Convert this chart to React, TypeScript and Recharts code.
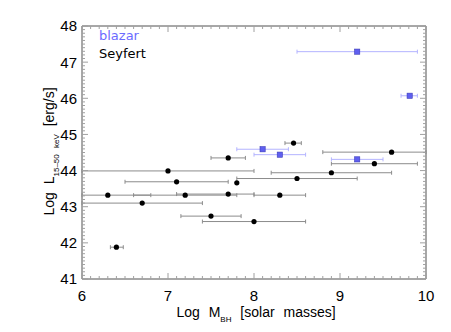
import { ErrorBar, Legend, ReferenceArea, Scatter, ScatterChart, XAxis, YAxis } from "recharts";

// blazars (blue squares)
const blazarMass = [9.2, 9.81, 8.1, 8.3, 9.2];
const blazarLum = [47.29, 46.07, 44.59, 44.44, 44.31];
const blazarMassLo = [8.5, 9.71, 7.8, 8.0, 8.9];
const blazarMassHi = [9.9, 9.9, 8.4, 8.6, 9.5];

// Seyferts (black dots)
const seyfertMass = [8.46, 7.7, 9.6, 9.4, 7.0, 7.1, 7.8, 8.5, 8.9, 6.3, 7.2, 7.7, 8.3, 6.7, 7.5, 8.0, 6.4];
const seyfertLum = [44.76, 44.35, 44.51, 44.19, 43.99, 43.69, 43.66, 43.78, 43.94, 43.32, 43.32, 43.35, 43.32, 43.1, 42.74, 42.59, 41.88];
const seyfertMassLo = [8.36, 7.5, 8.8, 8.9, 6.0, 6.5, 7.8, 7.8, 8.2, 6.0, 6.6, 7.1, 8.0, 6.0, 7.15, 7.4, 6.33];
const seyfertMassHi = [8.55, 7.9, 10.0, 9.9, 8.0, 7.7, 7.8, 9.2, 9.6, 6.8, 7.8, 8.0, 8.6, 7.4, 7.85, 8.6, 6.48];

const minorX = Array.from({ length: 41 }, (_, i) => 6 + i / 10);
const minorY = Array.from({ length: 71 }, (_, i) => 41 + i / 10);

const font = "'Liberation Sans', Arial, sans-serif";
const axisColor = "#8a8a8a";
const tickColor = "#a0a0a0";

const blazarData = blazarMass.map((m, i) => ({
  mass: m,
  lum: blazarLum[i],
  err: [m - blazarMassLo[i], blazarMassHi[i] - m],
}));
const seyfertData = seyfertMass.map((m, i) => ({
  mass: m,
  lum: seyfertLum[i],
  err: [m - seyfertMassLo[i], seyfertMassHi[i] - m],
}));

const isMajor = (v: number) => Math.abs(v - Math.round(v)) < 1e-6;

// inward tick marks (long on integers), plus the number on the labelled sides
const makeTick = (side: "bottom" | "top" | "left" | "right") => (p: any) => {
  const v = p.payload.value;
  const major = isMajor(v);
  const len = major ? 6 : 3;
  const { x, y } = p;
  let x2 = x, y2 = y;
  if (side === "bottom") y2 = y - len;
  if (side === "top") y2 = y + len;
  if (side === "left") x2 = x + len;
  if (side === "right") x2 = x - len;
  return (
    <g>
      <line x1={x} y1={y} x2={x2} y2={y2} stroke={tickColor} strokeWidth={1} />
      {major && side === "bottom" && (
        <text x={x} y={y + 11} dy="0.71em" textAnchor="middle" fontSize={15} fontFamily={font} fill="#000">
          {Math.round(v)}
        </text>
      )}
      {major && side === "left" && (
        <text x={x - 5} y={y} dy="0.36em" textAnchor="end" fontSize={15} fontFamily={font} fill="#000">
          {Math.round(v)}
        </text>
      )}
    </g>
  );
};

const Dot = (p: any) => <circle cx={p.cx} cy={p.cy} r={2.6} fill="#000" />;
const Square = (p: any) => (
  <rect x={p.cx - 2.6} y={p.cy - 2.6} width={5.2} height={5.2} fill="#5f5ff0" stroke="#3b3bb8" strokeWidth={0.6} />
);
const Nothing = () => <g />;

const XLabel = (p: any) => {
  const vb = p.viewBox;
  return (
    <text x={vb.x + vb.width / 2 + 2} y={vb.y + 37.5} textAnchor="middle" fontSize={14} fontFamily={font} fill="#000" style={{ wordSpacing: 5 }}>
      Log M<tspan dy={5} fontSize={8}>BH</tspan>
      <tspan dy={-5}> [solar masses]</tspan>
    </text>
  );
};

const YLabel = (p: any) => {
  const vb = p.viewBox;
  const cx = vb.x + 54;
  const cy = vb.y + vb.height / 2 - 1;
  return (
    <g transform={`translate(${cx},${cy})`}>
      <text transform="rotate(-90)" textAnchor="middle" fontSize={14} fontFamily={font} fill="#000" style={{ wordSpacing: 4 }}>
        Log L<tspan dy={5} fontSize={8}>15–50 keV</tspan>
        <tspan dy={-5}> [erg/s]</tspan>
      </text>
    </g>
  );
};

const legendColors: Record<string, string> = { blazar: "#6b6bff", Seyfert: "#000" };

const LegendBox = ({ payload }: any) => (
  <div style={{ fontFamily: "'DejaVu Sans', sans-serif", fontSize: 13, lineHeight: "17.5px" }}>
    {["blazar", "Seyfert"]
      .filter((n) => (payload || []).some((e: any) => e.value === n))
      .map((n) => (
        <div key={n} style={{ color: legendColors[n] }}>{n}</div>
      ))}
  </div>
);

export default function App() {
  return (
    <div style={{ position: "absolute", left: 0, top: 0, background: "#fff" }}>
      <ScatterChart width={451} height={332} margin={{ top: 26, right: 25, bottom: 0, left: 0 }}>
        <XAxis
          xAxisId="x"
          type="number"
          dataKey="mass"
          domain={[6, 10]}
          ticks={minorX}
          interval={0}
          allowDataOverflow
          height={53}
          tickLine={false}
          tickSize={0}
          tickMargin={0}
          axisLine={{ stroke: axisColor }}
          tick={makeTick("bottom")}
          label={XLabel}
        />
        <XAxis xAxisId="xt" orientation="top" type="number" dataKey="mass" domain={[6, 10]} ticks={minorX} interval={0} allowDataOverflow mirror height={1} tickSize={0} tickMargin={0} tickLine={false} axisLine={{ stroke: axisColor }} tick={makeTick("top")} />
        <YAxis
          yAxisId="y"
          type="number"
          dataKey="lum"
          domain={[41, 48]}
          ticks={minorY}
          interval={0}
          allowDataOverflow
          width={82}
          tickLine={false}
          tickSize={0}
          tickMargin={0}
          axisLine={{ stroke: axisColor }}
          tick={makeTick("left")}
          label={YLabel}
        />
        <YAxis yAxisId="yr" orientation="right" type="number" dataKey="lum" domain={[41, 48]} ticks={minorY} interval={0} allowDataOverflow mirror width={1} tickSize={0} tickMargin={0} tickLine={false} axisLine={{ stroke: axisColor }} tick={makeTick("right")} />
        <ReferenceArea xAxisId="x" yAxisId="y" x1={6} x2={10} y1={41} y2={48} fill="none" stroke={axisColor} strokeWidth={1} ifOverflow="visible" />
        <Legend
          layout="horizontal"
          verticalAlign="middle"
          align="center"
          wrapperStyle={{ top: 27, left: 99, width: "auto", height: "auto" }}
          content={LegendBox}
        />
        <Scatter data={seyfertData} xAxisId="xt" yAxisId="yr" shape={Nothing} legendType="none" isAnimationActive={false} />
        <Scatter name="Seyfert" data={seyfertData} xAxisId="x" yAxisId="y" fill="#000" shape={Dot} isAnimationActive={false}>
          <ErrorBar dataKey="err" direction="x" width={2} stroke="#8c8c8c" strokeWidth={1} isAnimationActive={false} />
        </Scatter>
        <Scatter name="blazar" data={blazarData} xAxisId="x" yAxisId="y" fill="#5f5ff0" shape={Square} isAnimationActive={false}>
          <ErrorBar dataKey="err" direction="x" width={2} stroke="#b4b4ff" strokeWidth={1} isAnimationActive={false} />
        </Scatter>
      </ScatterChart>
    </div>
  );
}
